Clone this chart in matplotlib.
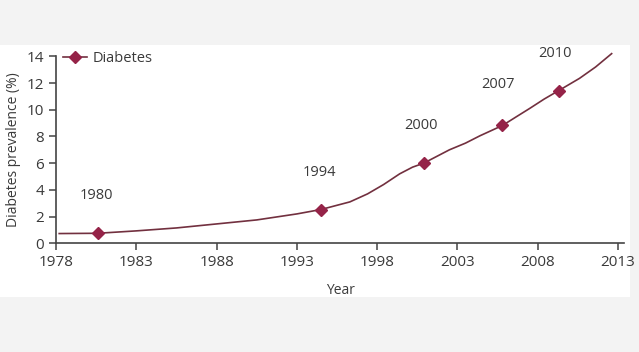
import matplotlib.pyplot as plt
from matplotlib.patches import Rectangle

# кривая распространённости
curve_years = [1978.2, 1980.6, 1983.0, 1985.5, 1988.0, 1990.5, 1993.0, 1994.5,
               1996.3, 1997.4, 1998.4, 1999.4, 2000.2, 2000.9, 2001.7, 2002.5,
               2003.5, 2004.4, 2005.8, 2006.7, 2007.5, 2008.4, 2009.3, 2010.6,
               2011.6, 2012.6]
curve_values = [0.73, 0.75, 0.93, 1.15, 1.45, 1.75, 2.2, 2.53,
                3.1, 3.7, 4.4, 5.2, 5.7, 6.0, 6.5, 7.0,
                7.5, 8.05, 8.82, 9.5, 10.1, 10.8, 11.43, 12.35,
                13.2, 14.2]

# точки-маркеры и подписи к ним
point_years = [1980.6, 1994.5, 2000.9, 2005.8, 2009.3]
point_values = [0.75, 2.53, 6.0, 8.82, 11.43]
point_labels = ["1980", "1994", "2000", "2007", "2010"]
label_x = [1980.5, 1994.4, 2000.7, 2005.5, 2009.1]
label_y = [3.6, 5.27, 8.8, 11.9, 14.2]

x_ticks = [1978, 1983, 1988, 1993, 1998, 2003, 2008, 2013]
y_ticks = [0, 2, 4, 6, 8, 10, 12, 14]

plt.rcParams['font.family'] = ['Open Sans', 'DejaVu Sans']
text_color = "#3a3a3a"
line_color = "#72303f"
marker_color = "#952348"

fig = plt.figure(figsize=(6.39, 3.52), dpi=100)
fig.patch.set_facecolor("#f3f3f3")
# белая подложка под графиком
bg = Rectangle((0, 55 / 352), 630 / 639, 252 / 352, transform=fig.transFigure,
               facecolor="white", edgecolor="none", zorder=-10)
fig.add_artist(bg)

ax = fig.add_axes([56 / 639, 108.7 / 352, 568.5 / 639, 187 / 352])
ax.set_zorder(5)
ax.set_facecolor("none")

ax.plot(curve_years, curve_values, color=line_color, lw=1.2, clip_on=False, zorder=2)
ax.plot(point_years, point_values, linestyle="none", marker="D", markersize=6.5,
        color=marker_color, zorder=3)
# легенда вручную: линия с маркером
ax.plot([], [], color=line_color, lw=1.2, marker="D", markersize=6.5,
        markerfacecolor=marker_color, markeredgecolor=marker_color, label="Diabetes")

for lx, ly, txt in zip(label_x, label_y, point_labels):
    ax.text(lx, ly, txt, ha="center", va="center", fontsize=10.5, color=text_color)

ax.set_xlim(1978, 2013.4)
ax.set_ylim(0, 14)
ax.set_xticks(x_ticks)
ax.set_yticks(y_ticks)
ax.tick_params(axis="both", colors="#444444", labelcolor=text_color, labelsize=11,
               width=1.1, length=5, direction="out")
for side in ["top", "right"]:
    ax.spines[side].set_visible(False)
for side in ["left", "bottom"]:
    ax.spines[side].set_color("#444444")
    ax.spines[side].set_linewidth(1.2)

ax.set_xlabel("Year", fontsize=10, color=text_color, labelpad=9)
ax.set_ylabel("Diabetes prevalence (%)", fontsize=10, color=text_color, labelpad=4)

leg = ax.legend(loc="upper left", bbox_to_anchor=(-0.005, 1.085), frameon=False,
                fontsize=10.5, handlelength=1.6, handletextpad=0.4, borderaxespad=0.3)
for t in leg.get_texts():
    t.set_color(text_color)

fig.savefig("out.png", dpi=100, facecolor=fig.get_facecolor())
